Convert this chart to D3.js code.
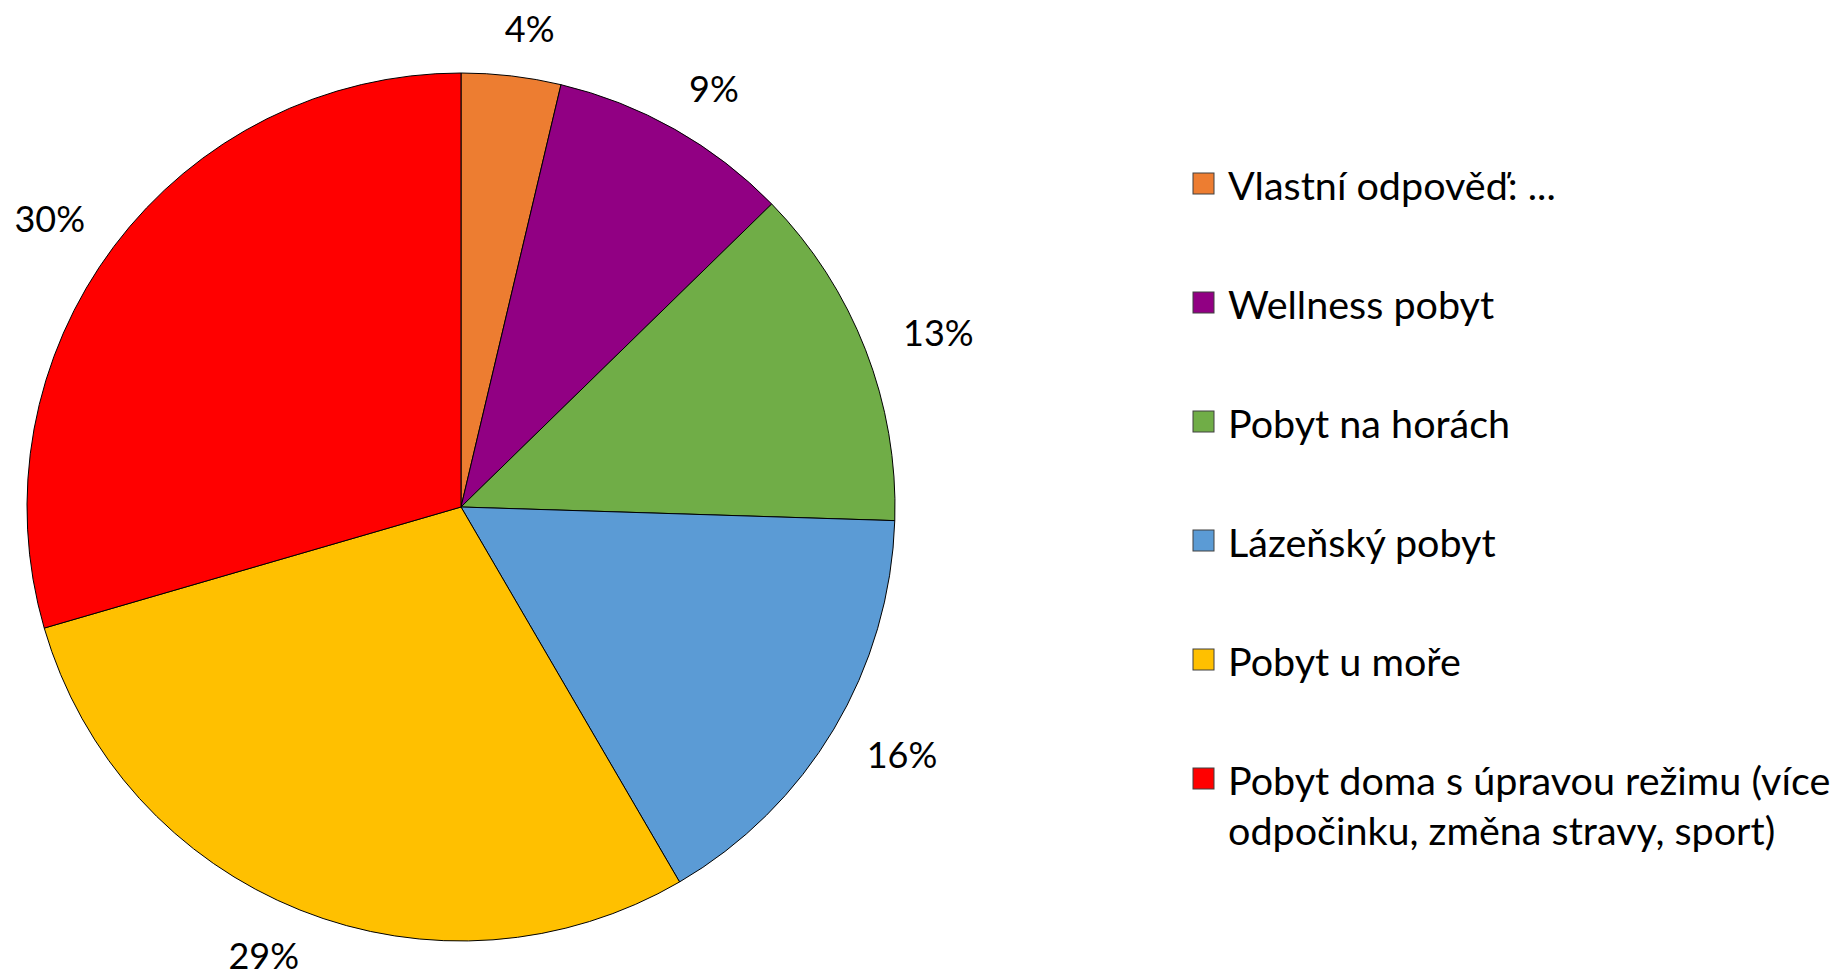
<!DOCTYPE html>
<html>
<head>
<meta charset="utf-8">
<script src="https://cdn.jsdelivr.net/npm/d3@7"></script>
<style>
  html, body { margin: 0; padding: 0; background: #fff; }
  svg { display: block; }
  text { font-family: Lato, "Open Sans", sans-serif; fill: #000; }
</style>
</head>
<body>
<div id="chart"></div>
<script>
// categories in drawing order (clockwise from 12 o'clock)
var categories = [
    "Vlastní odpověď: ...",
    "Wellness pobyt",
    "Pobyt na horách",
    "Lázeňský pobyt",
    "Pobyt u moře",
    "Pobyt doma s úpravou režimu (více odpočinku, změna stravy, sport)"
];

// shares
var values = [3.7, 9.0, 12.8, 16.1, 28.9, 29.5];

var colors = ["#ED7D31", "#910083", "#70AD47", "#5B9BD5", "#FFC000", "#FF0000"];

// legend lines (last entry wraps onto two lines)
var legendLines = [
    ["Vlastní odpověď: ..."],
    ["Wellness pobyt"],
    ["Pobyt na horách"],
    ["Lázeňský pobyt"],
    ["Pobyt u moře"],
    ["Pobyt doma s úpravou režimu (více", "odpočinku, změna stravy, sport)"]
];

(function () {
    "use strict";

    var width = 1843, height = 976,
        cx = 461, cy = 507,
        radius = 434,
        labelPad = 30,
        labelHeight = 36;

    var svg = d3.select("#chart")
        .append("svg")
        .attr("width", width)
        .attr("height", height);

    var color = d3.scaleOrdinal()
        .domain(categories)
        .range(colors);

    var pie = d3.pie()
        .sort(null)
        .value(function (d) { return d.value; });

    var data = categories.map(function (c, i) {
        return { name: c, value: values[i] };
    });

    var arcs = pie(data);

    var arc = d3.arc().innerRadius(0).outerRadius(radius);

    var g = svg.append("g").attr("transform", "translate(" + cx + "," + cy + ")");

    g.selectAll("path.slice")
        .data(arcs)
        .enter()
        .append("path")
            .attr("class", "slice")
            .attr("d", arc)
            .attr("fill", function (d) { return color(d.data.name); })
            .attr("stroke", "#000")
            .attr("stroke-width", 1);

    // percentage labels, placed just outside the rim (outside-end style)
    g.selectAll("text.pct")
        .data(arcs)
        .enter()
        .append("text")
            .attr("class", "pct")
            .attr("text-anchor", "middle")
            .attr("dominant-baseline", "central")
            .attr("font-size", 36)
            .text(function (d) { return Math.round(d.data.value) + "%"; })
            .attr("transform", function (d) {
                var a = (d.startAngle + d.endAngle) / 2,
                    s = Math.sin(a), c = Math.cos(a),
                    w = this.getComputedTextLength(),
                    x = (radius + labelPad) * s + (w / 2) * s + 12 * Math.sign(s),
                    y = -(radius + labelPad) * c - (labelHeight / 2) * c;
                return "translate(" + x + "," + y + ")";
            });

    // legend
    var legend = svg.append("g").attr("transform", "translate(1193,0)");
    var rowY = d3.scalePoint()
        .domain(categories)
        .range([184, 779]);

    var item = legend.selectAll("g.item")
        .data(categories)
        .enter()
        .append("g")
            .attr("class", "item")
            .attr("transform", function (d) { return "translate(0," + rowY(d) + ")"; });

    item.append("rect")
        .attr("x", 0)
        .attr("y", -11)
        .attr("width", 21)
        .attr("height", 21)
        .attr("fill", function (d) { return color(d); })
        .attr("stroke", "#404040")
        .attr("stroke-width", 1);

    item.append("text")
        .attr("x", 35)
        .attr("font-size", 39.5)
        .selectAll("tspan")
        .data(function (d, i) { return legendLines[i]; })
        .enter()
        .append("tspan")
            .attr("x", 35)
            .attr("y", function (d, j) { return j * 50; })
            .attr("dominant-baseline", "central")
            .text(function (d) { return d; });
})();
</script>
</body>
</html>
